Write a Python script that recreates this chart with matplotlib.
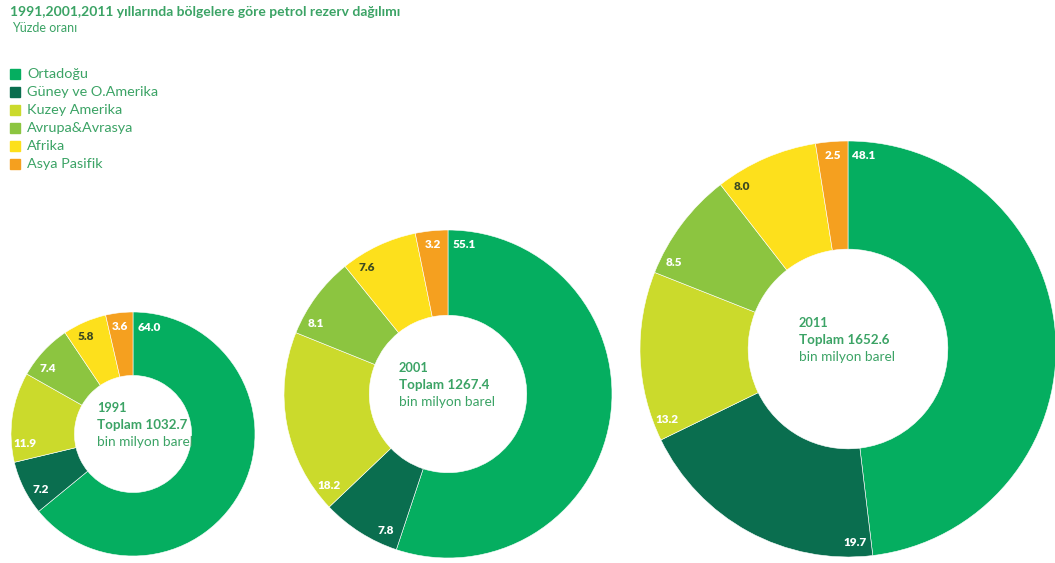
import numpy as np
import matplotlib.pyplot as plt

plt.rcParams['font.family'] = ['Lato', 'DejaVu Sans']

# Regions, in drawing order (clockwise from the top)
regions = ['Ortadoğu', 'Güney ve O.Amerika', 'Kuzey Amerika',
           'Avrupa&Avrasya', 'Afrika', 'Asya Pasifik']
colors = ['#05AE60', '#0A6E4F', '#CBDA2C', '#8CC540', '#FDE01C', '#F5A01F']
label_colors = ['white', 'white', 'white', 'white', '#3C4A22', 'white']

years = ['1991', '2001', '2011']
totals = [1032.7, 1267.4, 1652.6]
share_1991 = [64.0, 7.2, 11.9, 7.4, 5.8, 3.6]
share_2001 = [55.1, 7.8, 18.2, 8.1, 7.6, 3.2]
share_2011 = [48.1, 19.7, 13.2, 8.5, 8.0, 2.5]
shares = [share_1991, share_2001, share_2011]

W, H = 1055, 563
fig = plt.figure(figsize=(W / 100, H / 100), dpi=100)

green = '#3BA365'
fig.text(10 / W, 1 - 12 / H, '1991,2001,2011 yıllarında bölgelere göre petrol rezerv dağılımı',
         color=green, fontsize=10, fontweight='bold', va='center', ha='left')
fig.text(12 / W, 1 - 28 / H, 'Yüzde oranı', color=green, fontsize=9,
         va='center', ha='left')

# legend as plain squares + text
for i, (name, c) in enumerate(zip(regions, colors)):
    y = 1 - (74 + 18 * i) / H
    fig.patches.append(plt.Rectangle((10 / W, y - 5 / H), 10 / W, 10 / H,
                                     transform=fig.transFigure, color=c))
    fig.text(27 / W, y, name, color=green, fontsize=10.4, va='center', ha='left')

# donut centres and outer radii in pixels
centres = [(133, 434), (448, 394), (848, 349)]
radii = [122, 164, 208]
ring = 0.52

for year, total, vals, (cx, cy), R in zip(years, totals, shares, centres, radii):
    ax = fig.add_axes([(cx - R) / W, (H - cy - R) / H, 2 * R / W, 2 * R / H])
    ax.pie(vals, colors=colors, startangle=90, counterclock=False, radius=1,
           wedgeprops=dict(width=ring, edgecolor='white', linewidth=0.4))
    ax.set_xlim(-1, 1)
    ax.set_ylim(-1, 1)
    ax.set_aspect('equal')
    ax.axis('off')

    # value labels near the outer edge, just past each wedge's start
    r_lab = 1 - 14 / R
    cum = 0.0
    for v, lc in zip(vals, label_colors):
        start = 360 * cum / 100
        span = 360 * v / 100
        off = min(span / 2, np.degrees(16 / (r_lab * R)))
        th = np.radians(start + off)
        ax.text(r_lab * np.sin(th), r_lab * np.cos(th), f'{v:.1f}', color=lc,
                fontsize=8.5, fontweight='heavy', ha='center', va='center')
        cum += v

    # centre text
    x0 = -(36 if R < 130 else 49) / R
    ax.text(x0, 26 / R, year, color=green, fontsize=9.2, fontweight='bold',
            ha='left', va='center')
    ax.text(x0, 9 / R, f'Toplam {total:.1f}', color=green, fontsize=9.6,
            fontweight='bold', ha='left', va='center')
    ax.text(x0, -8 / R, 'bin milyon barel', color=green, fontsize=9.8,
            ha='left', va='center')

fig.savefig('out.png', dpi=100)
